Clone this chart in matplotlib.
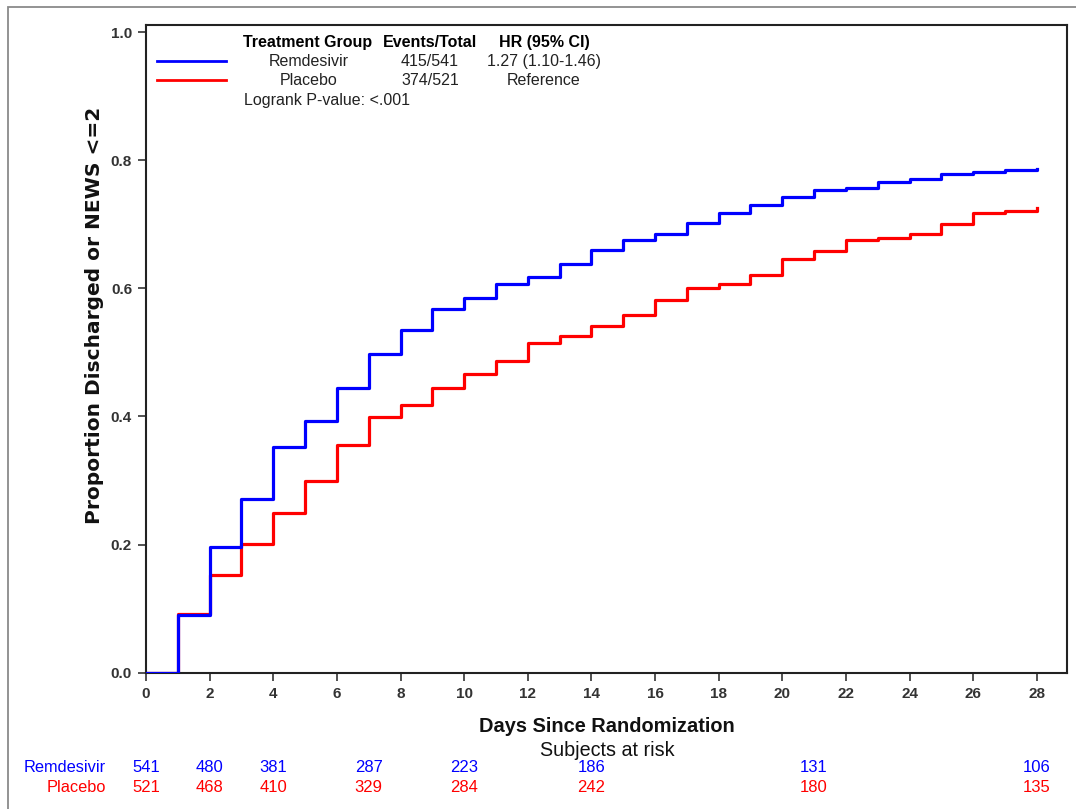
import matplotlib
matplotlib.use('Agg')
import matplotlib.pyplot as plt
from matplotlib.patches import Rectangle
import numpy as np

plt.rcParams['font.family'] = ['Liberation Sans', 'DejaVu Sans']

# cumulative proportion discharged or NEWS <=2, by day
days = list(range(0, 29))
remdesivir = [0.000, 0.090, 0.196, 0.271, 0.352, 0.393, 0.444, 0.497, 0.535, 0.567,
              0.585, 0.606, 0.618, 0.638, 0.660, 0.675, 0.685, 0.702, 0.717, 0.730,
              0.742, 0.754, 0.756, 0.766, 0.771, 0.779, 0.782, 0.785, 0.787]
placebo = [0.000, 0.092, 0.152, 0.201, 0.250, 0.300, 0.356, 0.399, 0.418, 0.445,
           0.466, 0.486, 0.514, 0.525, 0.541, 0.559, 0.582, 0.600, 0.606, 0.620,
           0.645, 0.659, 0.675, 0.679, 0.685, 0.701, 0.717, 0.721, 0.725]

# subjects at risk table
risk_days = [0, 2, 4, 7, 10, 14, 21, 28]
risk_remdesivir = [541, 480, 381, 287, 223, 186, 131, 106]
risk_placebo = [521, 468, 410, 329, 284, 242, 180, 135]

groups = ['Remdesivir', 'Placebo']
events = ['415/541', '374/521']
hr_text = ['1.27 (1.10-1.46)', 'Reference']
colors = ['#0000FF', '#FF0000']

W, H = 1076, 809
fig = plt.figure(figsize=(W / 100, H / 100), dpi=100)

# grey outer frame
fig.patches.append(Rectangle((8 / W, -0.05), 1.2, 1.05 - 7 / H, transform=fig.transFigure,
                             fill=False, edgecolor='#8a8a8a', linewidth=1.3))

ax = fig.add_axes([146 / W, (H - 672.7) / H, (1067 - 146) / W, (672.7 - 25) / H])

ax.step(days, remdesivir, where='post', color=colors[0], linewidth=2.3, zorder=3)
ax.step(days, placebo, where='post', color=colors[1], linewidth=2.3, zorder=2)

ax.set_xlim(0, 28.95)
ax.set_ylim(0, 1.011)
ax.set_xticks(range(0, 29, 2))
ax.set_yticks(np.arange(0, 1.01, 0.2))
ax.set_yticklabels(['%.1f' % v for v in np.arange(0, 1.01, 0.2)])
ax.tick_params(direction='out', length=6, width=1.2, labelsize=11,
               labelcolor='#333333', color='#333333', pad=4)
for lbl in ax.get_xticklabels() + ax.get_yticklabels():
    lbl.set_fontweight('bold')
for s in ax.spines.values():
    s.set_linewidth(1.5)
    s.set_color('#222222')

# legend block in upper left
y_rows = [61.5, 80.5]
for i in range(2):
    yl = 1.011 - (y_rows[i] - 25) / (672.7 - 25) * 1.011
    ax.plot([0.35, 2.52], [yl, yl], color=colors[i], linewidth=2, clip_on=False)

def ftext(x, y, s, **kw):
    fig.text(x / W, 1 - y / H, s, va='center', **kw)

fs = 11.5
ftext(308, 42.5, 'Treatment Group', ha='center', fontsize=fs, fontweight='bold')
ftext(430, 42.5, 'Events/Total', ha='center', fontsize=fs, fontweight='bold')
ftext(544, 42.5, 'HR (95% CI)', ha='center', fontsize=fs, fontweight='bold')
for i in range(2):
    ftext(309, y_rows[i], groups[i], ha='center', fontsize=fs, color='#222222')
    ftext(430, y_rows[i], events[i], ha='center', fontsize=fs, color='#222222')
    ftext(544, y_rows[i], hr_text[i], ha='center', fontsize=fs, color='#222222')
ftext(244, 100, 'Logrank P-value: <.001', ha='left', fontsize=fs, color='#222222')

# axis titles
ftext(95, 315, 'Proportion Discharged or NEWS <=2', ha='center', rotation=90,
      fontsize=14.5, fontweight='bold', color='#111111', family='DejaVu Sans')
ftext(607, 726, 'Days Since Randomization', ha='center', fontsize=14.4,
      fontweight='bold', color='#111111')
ftext(607, 750, 'Subjects at risk', ha='center', fontsize=14.2, color='#111111')

# at-risk rows
tr = ax.get_xaxis_transform()
for i, (row, y) in enumerate([(risk_remdesivir, 768), (risk_placebo, 787)]):
    ftext(106, y, groups[i], ha='right', fontsize=11.8, color=colors[i])
    for d, n in zip(risk_days, row):
        yy = -(y - 672.7) / (672.7 - 25)
        ax.text(d, yy, str(n), transform=tr, ha='center', va='center',
                fontsize=12, color=colors[i], clip_on=False)

fig.savefig('out.png', dpi=100)
